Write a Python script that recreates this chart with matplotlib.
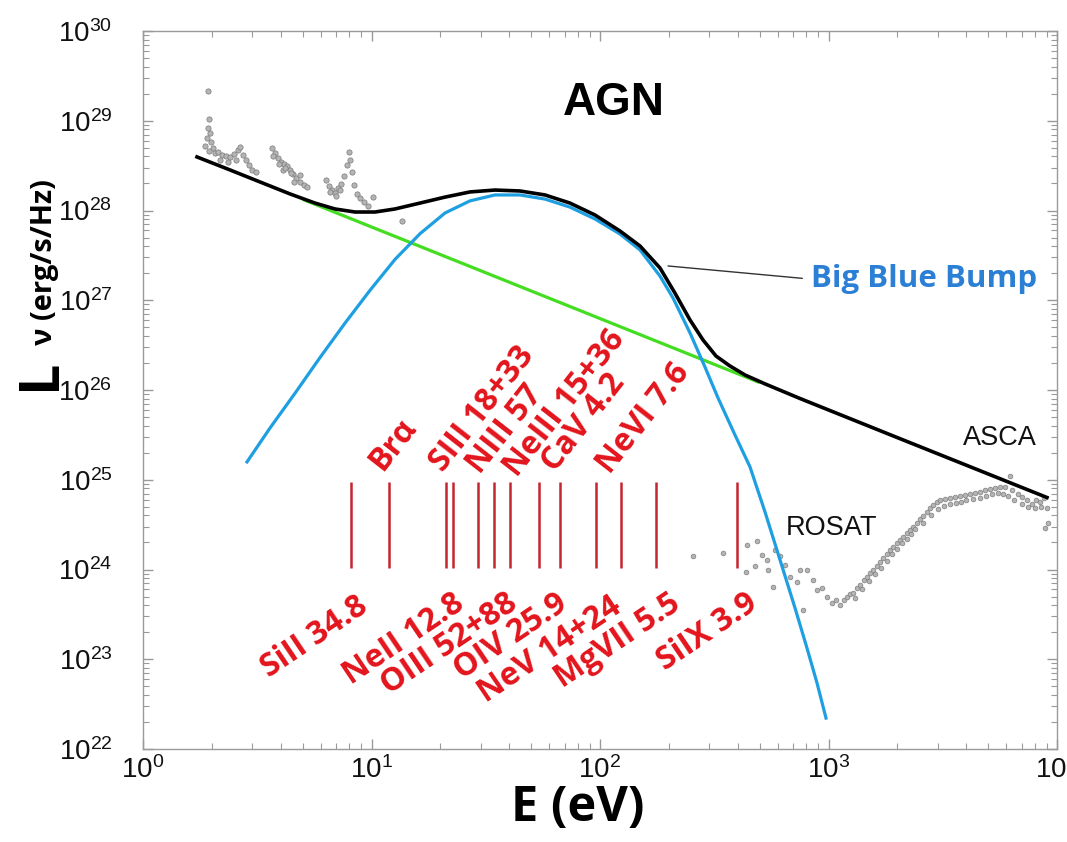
import numpy as np
import matplotlib
matplotlib.use("Agg")
import matplotlib.pyplot as plt
from matplotlib.ticker import LogLocator, NullFormatter, FixedLocator

# ---------------- data ----------------
# total SED model (black)
total_E = [1.723, 2.403, 3.251, 4.399, 5.657, 6.923, 8.470, 10.36, 12.67, 16.30,
           20.97, 26.98, 34.71, 44.66, 57.44, 73.90, 95.08, 122.3, 149.7, 183.0,
           212.9, 247.7, 282.4, 321.9, 370.7, 431.1, 527.5, 750.4, 2055, 9042]
total_L = [3.95e28, 2.83e28, 2.08e28, 1.53e28, 1.21e28, 1.04e28, 9.62e27, 9.62e27, 1.04e28, 1.21e28,
           1.41e28, 1.61e28, 1.69e28, 1.65e28, 1.49e28, 1.21e28, 8.91e27, 5.91e27, 4.02e27, 2.29e27,
           1.20e27, 6.03e26, 3.61e26, 2.39e26, 1.85e26, 1.47e26, 1.17e26, 8.04e25, 2.87e25, 6.34e24]

# big blue bump component (blue)
bump_E = [2.852, 3.596, 4.626, 5.952, 7.656, 9.849, 12.67, 16.30, 20.97, 26.98,
          34.71, 44.66, 57.44, 73.90, 95.08, 122.3, 149.7, 183.0, 208.7, 247.7,
          288.1, 328.5, 389.8, 453.4, 527.5, 613.5, 713.7, 805.3, 890.6, 975.2]
bump_L = [1.58e25, 3.77e25, 9.20e25, 2.30e26, 5.56e26, 1.29e27, 2.85e27, 5.51e27, 9.38e27, 1.28e28,
          1.49e28, 1.49e28, 1.34e28, 1.09e28, 8.04e27, 5.47e27, 3.63e27, 1.86e27, 1.06e27, 4.32e26,
          1.80e26, 8.15e25, 3.15e25, 1.39e25, 4.37e24, 1.28e24, 3.72e23, 1.33e23, 5.44e22, 2.21e22]

# power-law component (green)
powerlaw_E = [5.0, 500.0]
powerlaw_L = [1.33e28, 1.21e26]

# infrared photometry (grey points)
ir_E = [1.925, 1.945, 1.925, 1.965, 1.906, 1.985, 1.868, 2.025, 1.945, 2.066, 2.130, 2.217,
        2.308, 2.403, 2.502, 2.605, 2.658, 2.739, 2.824, 2.911, 2.999, 3.123, 2.17, 2.35, 2.55,
        3.669, 3.782, 3.898, 4.018, 4.141, 4.268, 4.399, 4.535, 4.674, 4.866, 5.066, 5.222,
        4.08, 4.60, 4.87, 3.72, 3.95, 4.20, 4.45,
        6.322, 6.516, 6.716, 6.923, 7.135, 7.355, 7.580, 7.813, 7.971, 8.052, 8.215, 8.383,
        8.641, 8.906, 9.273, 9.654, 10.15, 13.60, 6.60, 7.00, 7.25]
ir_L = [2.14e29, 1.05e29, 8.30e28, 7.30e28, 6.42e28, 5.80e28, 5.23e28, 4.97e28, 4.60e28, 4.37e28, 4.48e28, 4.15e28,
        4.05e28, 3.94e28, 4.26e28, 4.72e28, 5.10e28, 4.15e28, 3.65e28, 3.21e28, 2.83e28, 2.70e28, 3.65e28, 3.49e28, 3.65e28,
        4.97e28, 4.37e28, 3.85e28, 3.49e28, 3.33e28, 3.10e28, 2.83e28, 2.55e28, 2.30e28, 2.08e28, 1.94e28, 1.83e28,
        2.83e28, 2.08e28, 2.48e28, 4.10e28, 3.30e28, 3.00e28, 2.60e28,
        2.19e28, 1.88e28, 1.69e28, 1.58e28, 1.78e28, 1.98e28, 2.42e28, 3.21e28, 4.48e28, 3.65e28, 2.70e28, 1.94e28,
        1.53e28, 1.38e28, 1.24e28, 1.12e28, 1.42e28, 7.64e27, 1.60e28, 1.45e28, 1.70e28]

# X-ray data ROSAT / ASCA (grey points)
xray_E = [255, 345, 440, 487, 436, 477, 512, 538, 543, 583, 613, 645, 571, 679, 728, 750, 805, 855,
          773, 891, 937, 985, 1036, 1078, 1122, 1169, 1205, 1242, 1280, 1334, 1374, 1429, 1473, 1519,
          1565, 1631, 1680, 1732, 1804, 1859, 1916, 1995, 2056, 2118, 2207, 2274, 2344, 2440, 2515,
          2592, 2700, 2782, 2866, 2985, 3076, 3235, 3402, 3578, 3762, 3956, 4160, 4375, 4600, 4838,
          5087, 5350, 5625, 5916, 6221, 6354, 6750, 7030, 7393, 7774, 8095, 8430, 8770, 8860, 9140,
          1300, 1400, 1500, 1600, 1700, 1800, 1900, 2000, 2100, 2200, 2300, 2400, 2600, 2800, 3000,
          3200, 3400, 3600, 3800, 4000, 4300, 4600, 4900, 5200, 5500, 5800, 6100, 6500, 7000, 7500,
          8000, 8500, 9000]
xray_L = [1.41e24, 1.53e24, 1.87e24, 2.08e24, 9.4e23, 1.09e24, 1.45e24, 1.28e24, 9.9e23, 1.65e24, 1.41e24, 1.12e24,
          6.4e23, 8.2e23, 7.3e23, 9.9e23, 9.9e23, 7.6e23, 3.54e23, 5.9e23, 6.2e23, 4.9e23, 4.2e23, 4.6e23, 4.0e23,
          4.6e23, 4.9e23, 5.3e23, 5.5e23, 6.2e23, 6.7e23, 7.6e23, 8.2e23, 9.1e23, 9.9e23, 1.09e24, 1.21e24, 1.34e24,
          1.49e24, 1.65e24, 1.78e24, 1.97e24, 2.13e24, 2.30e24, 2.55e24, 2.75e24, 2.98e24, 3.30e24, 3.66e24, 3.95e24,
          4.37e24, 4.84e24, 5.23e24, 5.65e24, 5.9e24, 6.1e24, 6.27e24, 6.4e24, 6.6e24, 6.75e24, 6.93e24, 7.1e24,
          7.3e24, 7.7e24, 7.9e24, 8.1e24, 8.3e24, 8.3e24, 1.10e25, 7.7e24, 6.93e24, 6.4e24, 5.9e24, 5.4e24, 5.9e24,
          5.65e24, 6.27e24, 2.9e24, 3.30e24,
          4.8e23, 6.0e23, 7.4e23, 8.8e23, 1.05e24, 1.25e24, 1.5e24, 1.7e24, 1.95e24, 2.2e24, 2.5e24, 2.8e24,
          3.3e24, 4.0e24, 4.7e24, 5.1e24, 5.4e24, 5.5e24, 5.7e24, 5.9e24, 6.1e24, 6.3e24, 6.6e24, 6.9e24,
          7.1e24, 7.0e24, 6.6e24, 6.0e24, 5.4e24, 5.0e24, 4.8e24, 5.0e24, 4.9e24]

# emission-line ionisation energies (red markers) [eV]
line_E = [8.13, 11.93, 21.18, 22.73, 29.25, 34.37, 40.37, 54.08, 66.84, 96.05, 123.6, 175.8, 397.8]
line_L_range = [1.04e24, 9.45e24]

# line labels above the markers (start of the baseline)
upper_labels = ["Br\u03b1", "SIII 18+33", "NIII 57", "NeIII 15+36", "CaV 4.2", "NeVI 7.6"]
upper_E = [11.12, 20.55, 29.84, 43.34, 63.56, 110.6]
upper_L = [1.22e25, 1.19e25, 1.13e25, 1.05e25, 1.19e25, 1.13e25]

# line labels below the markers (upper-right end)
lower_labels = ["SiII 34.8", "NeII 12.8", "OIII 52+88", "OIV 25.9", "NeV 14+24", "MgVII 5.5", "SiIX 3.9"]
lower_E = [8.47, 22.50, 38.39, 63.56, 109.5, 198.5, 431.1]
lower_L = [5.91e23, 6.38e23, 6.38e23, 6.38e23, 5.91e23, 6.38e23, 6.38e23]

# axis decades
x_decades = [1e0, 1e1, 1e2, 1e3, 1e4]
y_decades = [1e22, 1e23, 1e24, 1e25, 1e26, 1e27, 1e28, 1e29, 1e30]

# ---------------- styling ----------------
plt.rcParams['font.family'] = ['Liberation Sans', 'DejaVu Sans']
plt.rcParams['mathtext.fontset'] = 'custom'
plt.rcParams['mathtext.rm'] = 'Liberation Sans'
plt.rcParams['mathtext.it'] = 'Liberation Sans:italic'
plt.rcParams['mathtext.bf'] = 'Liberation Sans:bold'

HUM = ['Open Sans', 'DejaVu Sans']
RED_TXT = '#e3141c'
RED_LINE = '#c4262e'
BLUE = '#1e9fe2'
GREEN = '#45dd22'

W, H = 1067, 842
fig = plt.figure(figsize=(W / 100, H / 100), dpi=100)
ax = fig.add_axes([143 / W, 1 - 749 / H, (1057 - 143) / W, (749 - 31) / H])
ax.set_xscale('log')
ax.set_yscale('log')
ax.set_xlim(1, 1e4)
ax.set_ylim(1e22, 1e30)

# data points
ax.plot(ir_E, ir_L, 'o', ms=3.8, mfc='#b4b4b4', mec='#7a7a7a', mew=0.5, zorder=2)
ax.plot(xray_E, xray_L, 'o', ms=3.4, mfc='#b4b4b4', mec='#808080', mew=0.5, zorder=2)

# model curves
ax.plot(powerlaw_E, powerlaw_L, color=GREEN, lw=2.3, zorder=3, solid_capstyle='butt')
ax.plot(bump_E, bump_L, color=BLUE, lw=2.3, zorder=4)
ax.plot(total_E, total_L, color='black', lw=2.6, zorder=5)

# line markers
ax.vlines(line_E, line_L_range[0], line_L_range[1], color=RED_LINE, lw=1.8, zorder=3)
for s, e, l in zip(upper_labels, upper_E, upper_L):
    ax.text(e, l, s, rotation=52, rotation_mode='anchor', ha='left', va='baseline',
            color=RED_TXT, fontsize=23, fontweight='bold', family=HUM, zorder=6)
for s, e, l in zip(lower_labels, lower_E, lower_L):
    ax.text(e, l, s, rotation=34, rotation_mode='anchor', ha='right', va='top',
            color=RED_TXT, fontsize=23, fontweight='bold', family=HUM, zorder=6)

# annotations
ax.annotate('Big Blue Bump', xy=(198.5, 2.41e27), xytext=(835, 1.72e27),
            ha='left', va='center', color='#2b80d6', fontsize=22.5, fontweight='bold', family=HUM,
            arrowprops=dict(arrowstyle='-', color='#333333', lw=1.0, shrinkA=4, shrinkB=0,
                            relpos=(0, 0.5)))
ax.text(5630, 2.92e25, 'ASCA', ha='center', va='center', fontsize=19.5, color='#111111')
ax.text(1026, 2.90e24, 'ROSAT', ha='center', va='center', fontsize=19.5, color='#111111')
ax.text(0.515, 0.900, 'AGN', transform=ax.transAxes, ha='center', va='center',
        fontsize=33, fontweight='bold', color='black')

# axes styling
for sp in ax.spines.values():
    sp.set_color('#9a9a9a')
    sp.set_linewidth(1.0)
ax.xaxis.set_major_locator(FixedLocator(x_decades))
ax.yaxis.set_major_locator(FixedLocator(y_decades))
ax.xaxis.set_minor_locator(LogLocator(base=10, subs=np.arange(2, 10), numticks=100))
ax.yaxis.set_minor_locator(LogLocator(base=10, subs=np.arange(2, 10), numticks=100))
ax.xaxis.set_minor_formatter(NullFormatter())
ax.yaxis.set_minor_formatter(NullFormatter())
ax.tick_params(which='both', direction='in', top=True, right=True, color='#9a9a9a',
               labelcolor='#111111', labelsize=20)
ax.tick_params(which='major', length=7, width=1)
ax.tick_params(which='minor', length=4, width=0.8)
ax.tick_params(axis='x', which='major', pad=5)
ax.tick_params(axis='y', which='major', pad=22)

# axis titles
fig.text(578 / W, 1 - 808 / H, 'E (eV)', ha='center', va='center', fontsize=35,
         fontweight='bold', family=HUM)
fig.text(40 / W, 1 - 374 / H, 'L', ha='center', va='center', rotation=90, fontsize=40,
         fontweight='bold', family=HUM)
fig.text(45 / W, 1 - 262 / H, '\u03bd (erg/s/Hz)', ha='center', va='center', rotation=90,
         fontsize=21, fontweight='bold', family=HUM)

fig.savefig('out.png', dpi=100)
